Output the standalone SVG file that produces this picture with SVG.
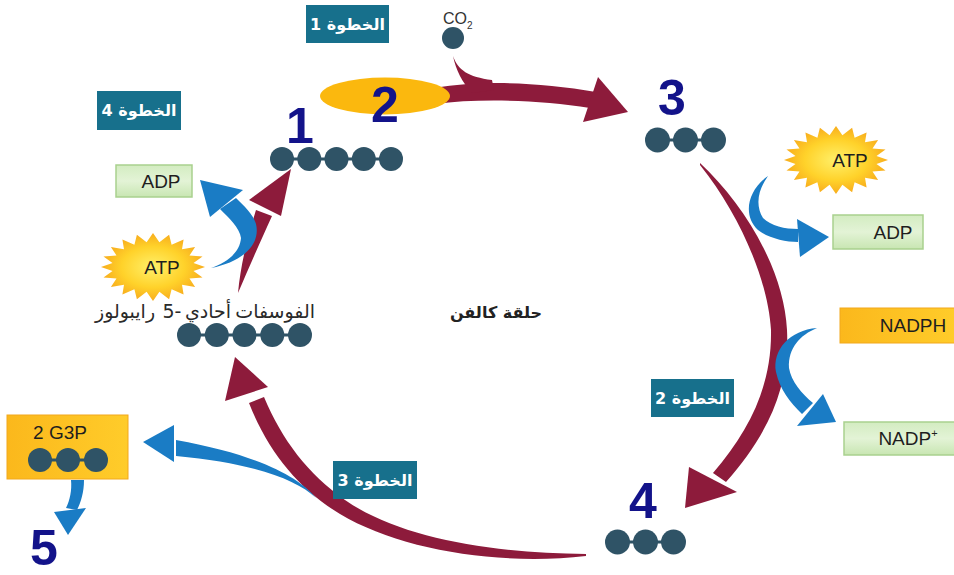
<svg xmlns="http://www.w3.org/2000/svg" xmlns:xlink="http://www.w3.org/1999/xlink" width="954" height="575" viewBox="0 0 954 575">
<style>
.step{fill:#17708c}
.steptxt{font-family:"DejaVu Sans",sans-serif;font-weight:bold;font-size:16px;fill:#ffffff}
.num{font-family:"Liberation Sans",Arial,sans-serif;font-weight:bold;font-size:50px;fill:#13138a}
.dot{fill:#2f5366}
.link{stroke:#2f5366;stroke-width:3}
.red{fill:#8d1b3b}
.blue{fill:#1a7cc5}
.lbl{font-family:"Liberation Sans",Arial,sans-serif;font-size:19px;fill:#1e1e1e}
.green{fill:url(#gGreen);stroke:#a9d18e;stroke-width:1.5}
.gold{fill:url(#gGold);stroke:#f2a81d;stroke-width:1}
.ar{font-family:"DejaVu Sans",sans-serif;font-size:19px;fill:#2a2a2a}
</style>
<defs>
<radialGradient id="gBurst" cx="0.5" cy="0.5" r="0.55">
<stop offset="0" stop-color="#fff06a"/>
<stop offset="0.55" stop-color="#ffd22a"/>
<stop offset="1" stop-color="#f6a31a"/>
</radialGradient>
<linearGradient id="gGreen" x1="0" y1="0" x2="0" y2="1">
<stop offset="0" stop-color="#d3ecc1"/>
<stop offset="0.5" stop-color="#e3f3d6"/>
<stop offset="1" stop-color="#c8e6b2"/>
</linearGradient>
<linearGradient id="gGold" x1="0" y1="0" x2="1" y2="0">
<stop offset="0" stop-color="#fbb81c"/>
<stop offset="1" stop-color="#ffcc2a"/>
</linearGradient>
<polygon id="burst" fill="url(#gBurst)" points="52,0 40.5,3.9 49.5,10.5 36.5,11.4 42.1,20 29,17.7 30.6,27.5 18.6,22.3 16.1,32.3 6.4,24.7 0,34 -6.4,24.7 -16.1,32.3 -18.6,22.3 -30.6,27.5 -29,17.7 -42.1,20 -36.5,11.4 -49.5,10.5 -40.5,3.9 -52,0 -40.5,-3.9 -49.5,-10.5 -36.5,-11.4 -42.1,-20 -29,-17.7 -30.6,-27.5 -18.6,-22.3 -16.1,-32.3 -6.4,-24.7 0,-34 6.4,-24.7 16.1,-32.3 18.6,-22.3 30.6,-27.5 29,-17.7 42.1,-20 36.5,-11.4 49.5,-10.5 40.5,-3.9"/>
</defs>
<rect width="954" height="575" fill="#ffffff"/>

<g id="connectors">
<path class="red" d="M435,88 C480,80 540,82 596,92 L590,108 C540,100 480,98 435,104 Z"/>
<path class="red" d="M598,77 L628,112 L583,122 Z"/>
<path class="red" d="M453,56 C458,70 468,77 492,80 L494,90 L472,93 C462,82 456,70 453,56 Z"/>
<path class="red" d="M700,163 C745,205 784,270 787,330 C790,390 765,438 726,482 L713,473 C750,430 772,385 771,330 C768,280 740,215 700,165 Z"/>
<path class="red" d="M689,467 L737,492 L685,508 Z"/>
<path class="red" d="M586,556 C500,566 400,550 340,514 C300,490 268,452 249,403 L264,397 C282,440 308,474 345,500 C400,538 490,553 586,554 Z"/>
<path class="red" d="M225,401 L268,387 L235,357 Z"/>
<path class="red" d="M238,293 C241,262 248,236 256,210 L272,216 C261,240 250,265 238,293 Z"/>
<path class="red" d="M249,200 L281,216 L291,169 Z"/>
<path class="blue" d="M211,268 C242,262 261,245 256,224 C253,214 244,206 236,198 L220,209 C228,217 240,228 241,238 C240,252 228,262 211,268 Z"/>
<path class="blue" d="M210,217 L243,190 L200,180 Z"/>
<path class="blue" d="M768,176 C748,190 742,215 758,230 C768,238 785,242 798,242 L798,229 C785,229 771,226 763,218 C755,205 758,190 768,176 Z"/>
<path class="blue" d="M797,219 L800,257 L829,237 Z"/>
<path class="blue" d="M817,328 C790,330 772,350 776,372 C780,390 790,402 802,414 L813,403 C802,394 791,381 789,368 C788,348 800,335 817,328 Z"/>
<path class="blue" d="M797,426 L823,394 L836,422 Z"/>
<path class="blue" d="M316,498 C300,478 260,455 176,440 L176,456 C250,463 295,478 316,498 Z"/>
<path class="blue" d="M174,425 L174,462 L143,442 Z"/>
<path class="blue" d="M71,480 L84,480 C84,492 81,502 77,510 L66,508 C70,500 72,490 71,480 Z"/>
<path class="blue" d="M54,512 L86,508 L68,535 Z"/>
</g>

<g id="step1"><rect class="step" x="306" y="5" width="83" height="38"/><text class="steptxt" x="347.5" y="30" text-anchor="middle">1 الخطوة</text></g>
<g id="step4"><rect class="step" x="97" y="91" width="84" height="39"/><text class="steptxt" x="139" y="116" text-anchor="middle">4 الخطوة</text></g>
<g id="step2"><rect class="step" x="651" y="379" width="83" height="38"/><text class="steptxt" x="692.5" y="404" text-anchor="middle">2 الخطوة</text></g>
<g id="step3"><rect class="step" x="333" y="461" width="84" height="38"/><text class="steptxt" x="375" y="486" text-anchor="middle">3 الخطوة</text></g>

<g id="co2">
<text x="443" y="24" font-family="Liberation Sans,Arial,sans-serif" font-size="16" fill="#333">CO<tspan font-size="10" dy="5">2</tspan></text>
<circle class="dot" cx="453" cy="38" r="11"/>
</g>

<g id="rubisco">
<ellipse cx="385" cy="96" rx="65" ry="18.5" fill="#fbb80e"/>
<text class="num" x="385" y="122" text-anchor="middle">2</text>
</g>

<g id="rubp5">
<line class="link" x1="282" y1="159" x2="391" y2="159"/>
<circle class="dot" cx="282" cy="159" r="12"/><circle class="dot" cx="309.3" cy="159" r="12"/><circle class="dot" cx="336.5" cy="159" r="12"/><circle class="dot" cx="363.8" cy="159" r="12"/><circle class="dot" cx="391" cy="159" r="12"/>
<text class="num" x="300" y="143" text-anchor="middle">1</text>
</g>

<g id="pga">
<text class="num" x="672" y="115" text-anchor="middle">3</text>
<line class="link" x1="657.5" y1="140" x2="713.5" y2="140"/>
<circle class="dot" cx="657.5" cy="140" r="12.5"/><circle class="dot" cx="685.5" cy="140" r="12.5"/><circle class="dot" cx="713.5" cy="140" r="12.5"/>
</g>

<g id="g3p-cycle">
<text class="num" x="643" y="518" text-anchor="middle">4</text>
<line class="link" x1="617.5" y1="542" x2="673.5" y2="542"/>
<circle class="dot" cx="617.5" cy="542" r="12.5"/><circle class="dot" cx="645.5" cy="542" r="12.5"/><circle class="dot" cx="673.5" cy="542" r="12.5"/>
</g>

<g id="ribulose">
<text class="ar" x="95" y="318">رايبولوز</text>
<text class="ar" x="172" y="318" text-anchor="middle">5-</text>
<text class="ar" x="208" y="318" text-anchor="middle">أحادي</text>
<text class="ar" x="315" y="318" text-anchor="end">الفوسفات</text>
<line class="link" x1="189" y1="335" x2="300" y2="335"/>
<circle class="dot" cx="189" cy="335" r="12"/><circle class="dot" cx="216.8" cy="335" r="12"/><circle class="dot" cx="244.5" cy="335" r="12"/><circle class="dot" cx="272.3" cy="335" r="12"/><circle class="dot" cx="300" cy="335" r="12"/>
</g>

<g id="calvin"><text x="496" y="318" text-anchor="middle" font-family="DejaVu Sans,sans-serif" font-weight="bold" font-size="16" fill="#222">حلقة كالفن</text></g>

<g id="atp-left"><use xlink:href="#burst" transform="translate(153,267)"/><text class="lbl" x="162" y="274" text-anchor="middle">ATP</text></g>
<g id="atp-right"><use xlink:href="#burst" transform="translate(836,160)"/><text class="lbl" x="850" y="167" text-anchor="middle">ATP</text></g>

<g id="adp-left"><rect class="green" x="116" y="165" width="76" height="32"/><text class="lbl" x="161" y="188" text-anchor="middle">ADP</text></g>
<g id="adp-right"><rect class="green" x="833" y="215" width="90" height="34"/><text class="lbl" x="893" y="239" text-anchor="middle">ADP</text></g>
<g id="nadph"><rect class="gold" x="840" y="308" width="116" height="35"/><text class="lbl" x="913" y="332" text-anchor="middle">NADPH</text></g>
<g id="nadp"><rect class="green" x="844" y="422" width="112" height="33"/><text class="lbl" x="908" y="445" text-anchor="middle">NADP<tspan font-size="11" dy="-8">+</tspan></text></g>

<g id="g3p-out">
<rect class="gold" x="7" y="415" width="121" height="64"/>
<text class="lbl" x="60" y="439" text-anchor="middle">2 G3P</text>
<line class="link" x1="40" y1="460" x2="96" y2="460"/>
<circle class="dot" cx="40" cy="460" r="12"/><circle class="dot" cx="68" cy="460" r="12"/><circle class="dot" cx="96" cy="460" r="12"/>
</g>
<g id="n5"><text class="num" x="44" y="565" text-anchor="middle" font-size="46">5</text></g>
</svg>
